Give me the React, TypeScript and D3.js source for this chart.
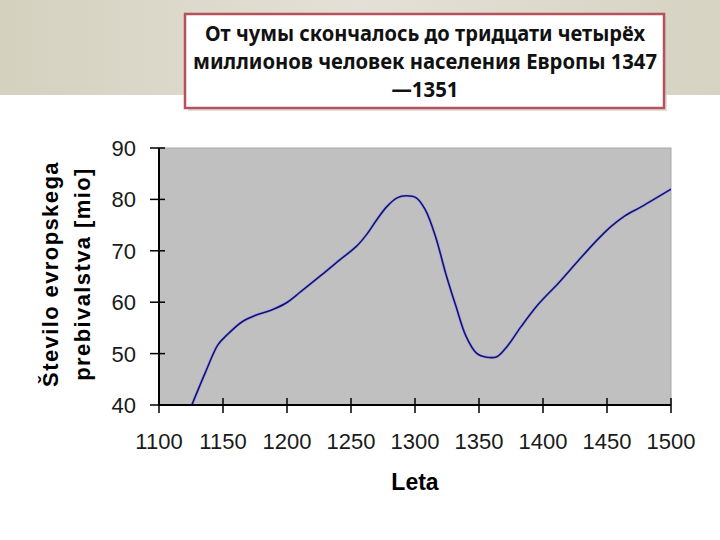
import React from 'react';
import * as d3 from 'd3';

// population of Europe, millions
const years = [1125, 1136, 1146, 1153, 1165, 1176, 1187, 1199, 1211, 1227, 1241, 1254, 1262, 1270, 1278, 1286, 1293, 1301, 1308, 1316, 1324, 1332, 1340, 1348, 1356, 1364, 1372, 1383, 1396, 1412, 1428, 1440, 1453, 1464, 1477, 1500];
const population = [39.6, 46.2, 51.7, 53.6, 56.2, 57.5, 58.4, 59.8, 62.1, 65.3, 68.2, 70.8, 73.1, 76.0, 78.6, 80.3, 80.7, 80.3, 78.0, 72.8, 65.6, 59.2, 53.3, 50.1, 49.3, 49.4, 51.4, 55.3, 59.5, 63.7, 68.2, 71.5, 74.7, 76.8, 78.6, 82.0];

const xTicks = [1100, 1150, 1200, 1250, 1300, 1350, 1400, 1450, 1500];
const yTicks = [40, 50, 60, 70, 80, 90];

const titleLines = [
  'От чумы скончалось до тридцати четырёх',
  'миллионов человек населения Европы 1347',
  '—1351',
];
const yTitleLines = ['Število evropskega', 'prebivalstva [mio]'];
const xTitle = 'Leta';

const W = 720;
const H = 540;
const plot = { left: 159, right: 671, top: 148, bottom: 405 };

const App = () => {
  const x = d3.scaleLinear().domain([1100, 1500]).range([plot.left, plot.right]);
  const y = d3.scaleLinear().domain([40, 90]).range([plot.bottom, plot.top]);

  const points = years.map((yr, i) => ({ yr, v: population[i] }));
  const line = d3.line<{ yr: number; v: number }>()
    .x(d => x(d.yr))
    .y(d => y(d.v))
    .curve(d3.curveCatmullRom.alpha(0.5));

  const axisFont = "'Liberation Sans', Arial, sans-serif";
  const titleFont = "'Liberation Sans Narrow', 'Noto Sans', sans-serif";

  return (
    <svg width={W} height={H} style={{ position: 'absolute', left: 0, top: 0, background: '#fff' }}>
      <defs>
        <linearGradient id="band" x1="0" x2="1" y1="0" y2="0">
          <stop offset="0%" stopColor="#d4d1bf" />
          <stop offset="50%" stopColor="#e4e0d7" />
          <stop offset="100%" stopColor="#d6d3c3" />
        </linearGradient>
        <clipPath id="plotClip">
          <rect x={plot.left} y={plot.top} width={plot.right - plot.left} height={plot.bottom - plot.top} />
        </clipPath>
      </defs>

      {/* top band */}
      <rect x={0} y={0} width={W} height={95} fill="url(#band)" />

      {/* title box */}
      <rect x={188} y={17} width={479} height={94} fill="#cfcac0" opacity={0.6} />
      <rect x={185} y={14} width={479} height={94} fill="#fff" stroke="#b5525c" strokeWidth={2.5} />
      {titleLines.map((t, i) => (
        <text
          key={i}
          x={425}
          y={41 + i * 28}
          textAnchor="middle"
          fontFamily={titleFont}
          fontWeight="bold"
          fontSize={21}
          fill="#111"
          textLength={i === 0 ? 440 : i === 1 ? 464 : 67}
          lengthAdjust="spacingAndGlyphs"
        >
          {t}
        </text>
      ))}

      {/* plot area */}
      <rect x={plot.left} y={plot.top} width={plot.right - plot.left} height={plot.bottom - plot.top}
        fill="#c0c0c0" stroke="#a8a8a8" strokeWidth={1} />

      <path d={line(points) || ''} fill="none" stroke="#9c9ce0" strokeWidth={3.2} clipPath="url(#plotClip)" opacity={0.6} />
      <path d={line(points) || ''} fill="none" stroke="#10107a" strokeWidth={1.6} clipPath="url(#plotClip)" />

      {/* axes */}
      <line x1={plot.left} x2={plot.left} y1={plot.top} y2={plot.bottom + 1} stroke="#000" strokeWidth={2} />
      <line x1={plot.left} x2={plot.right} y1={plot.bottom} y2={plot.bottom} stroke="#000" strokeWidth={2} />

      {yTicks.map(t => (
        <g key={t}>
          <line x1={plot.left - 9} x2={plot.left + 6} y1={y(t)} y2={y(t)} stroke="#000" strokeWidth={1.5} />
          <text x={136} y={y(t) + 8} textAnchor="end" fontFamily={axisFont} fontSize={22} fill="#1a1a1a">{t}</text>
        </g>
      ))}

      {xTicks.map(t => (
        <g key={t}>
          <line x1={x(t)} x2={x(t)} y1={plot.bottom - 7} y2={plot.bottom + 8} stroke="#000" strokeWidth={1.5} />
          <text x={x(t)} y={449} textAnchor="middle" fontFamily={axisFont} fontSize={22} fill="#1a1a1a">{t}</text>
        </g>
      ))}

      <text x={(plot.left + plot.right) / 2} y={490} textAnchor="middle" fontFamily={axisFont}
        fontWeight="bold" fontSize={23} fill="#000">{xTitle}</text>

      {yTitleLines.map((t, i) => (
        <text key={i} transform={`translate(${58 + i * 32},274) rotate(-90)`} textAnchor="middle"
          fontFamily={axisFont} fontWeight="bold" fontSize={22} letterSpacing={1.4} fill="#000">
          {t}
        </text>
      ))}
    </svg>
  );
};

export default App;
